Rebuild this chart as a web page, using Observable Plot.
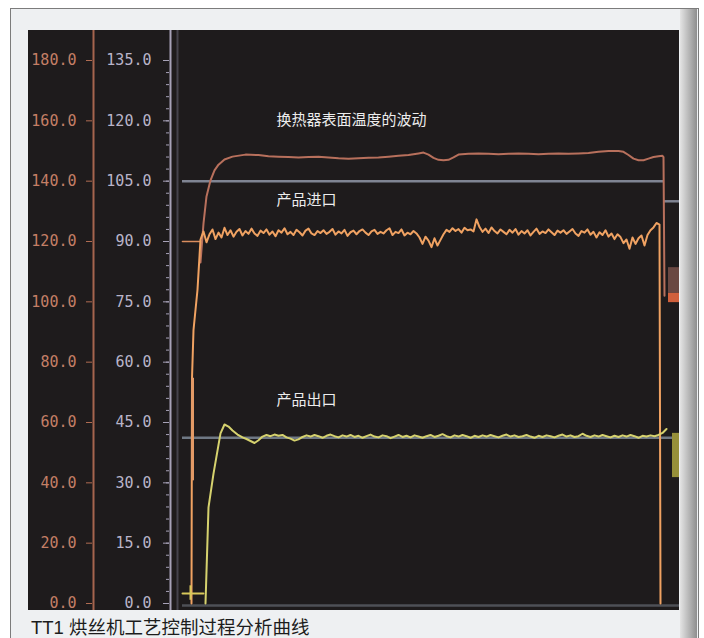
<!DOCTYPE html>
<html><head><meta charset="utf-8">
<script src="https://cdn.jsdelivr.net/npm/d3@7"></script>
<script src="https://cdn.jsdelivr.net/npm/@observablehq/plot@0.6"></script>
<style>
html,body{margin:0;padding:0;background:#fff;width:704px;height:638px;overflow:hidden;}
#frame{position:absolute;left:10px;top:8px;width:687px;height:640px;border:1px solid #7c7c7c;border-bottom:none;background:#eef0f2;}
#strip{position:absolute;left:680px;top:9px;width:17px;height:640px;background:linear-gradient(to right,#e4e4e4,#bdbdbd 45%,#8e8e8e);}
#chart{position:absolute;left:28px;top:30px;width:651px;height:580px;}
#chart svg{display:block;}
#caption{position:absolute;left:31px;top:613px;font:18.5px "Liberation Sans","Noto Sans CJK SC",sans-serif;color:#1c1c1c;white-space:nowrap;}
</style></head>
<body>
<div id="frame"></div>
<div id="strip"></div>
<div id="chart"></div>
<div id="caption">TT1 烘丝机工艺控制过程分析曲线</div>
<script>
// ---- tick labels (left = primary 0-135 scale, outer = 0-180 scale) ----
const innerTickLabels = [0, 15, 30, 45, 60, 75, 90, 105, 120, 135];
const outerTickLabels = [0, 20, 40, 60, 80, 100, 120, 140, 160, 180];
const outerToInner = 0.75;
const minorTicks = d3.range(0, 136, 3);

// ---- annotations ----
const labelText = ["换热器表面温度的波动", "产品进口", "产品出口"];
const labelT = [98, 98, 98];
const labelV = [120.1, 100.2, 50.5];

// ---- heat exchanger surface temperature ----
const heaterT = [22, 25, 28, 32, 36, 40, 46, 54, 67, 80, 90, 100, 110, 120, 130, 140, 150, 160, 170, 180, 190, 200, 210, 220, 230, 240, 245, 250, 255, 260, 265, 270, 275, 280, 290, 300, 310, 320, 330, 340, 350, 360, 370, 380, 390, 400, 410, 420, 430, 440, 445, 450, 455, 460, 465, 470, 475, 480, 484, 485, 486];
const heaterV = [84.8, 94.5, 101.2, 105.2, 107.7, 109.1, 110.4, 111.1, 111.6, 111.5, 111.2, 111.1, 111.0, 110.9, 111.0, 111.1, 110.9, 110.7, 110.6, 110.7, 110.8, 110.9, 111.1, 111.3, 111.5, 111.9, 112.1, 111.6, 110.8, 110.3, 110.2, 110.3, 110.9, 111.6, 111.8, 111.9, 111.8, 111.7, 111.8, 111.9, 111.8, 111.7, 111.8, 111.9, 111.8, 111.9, 112.0, 112.3, 112.5, 112.5, 112.3, 111.5, 110.6, 110.2, 110.2, 110.6, 111.0, 111.2, 111.3, 111.0, 76.5];

// ---- product inlet ----
const inletSetT = [4, 22];
const inletSetV = [90, 90];
const inletRiseT = [13, 13.5, 15, 19];
const inletRiseV = [0, 56, 68, 78];
const inletStart = 22, inletStep = 3;
const inletNoise = [
  90.5, 92.5, 89.8, 91.8, 93.0, 90.6, 92.2, 91.0, 93.4, 91.6, 92.8, 91.2, 92.4, 93.1, 91.5, 92.6, 91.9, 93.2, 92.0, 91.4, 92.7,
  92.1, 93.0, 91.7, 92.5, 91.3, 92.8, 92.2, 93.3, 91.8, 92.4, 91.6, 92.9, 92.3, 91.5, 92.7, 93.2, 92.0, 91.6, 92.6, 92.1,
  92.8, 91.9, 92.4, 93.1, 91.7, 92.5, 92.0, 92.9, 91.4, 92.3, 92.7, 91.8, 92.6, 93.0, 92.2, 91.6, 92.5, 92.9, 91.9, 92.4,
  92.0, 92.8, 93.3, 91.6, 92.4, 92.1, 93.0, 91.5, 92.2, 91.8, 92.6, 92.0, 91.0, 89.4, 91.2, 90.2, 88.6, 90.8, 89.0, 90.4,
  91.8, 92.9, 92.4, 93.3, 92.6, 93.1, 92.2, 93.4, 92.8, 93.0, 92.5, 95.5, 93.6, 92.4, 93.2, 92.1, 93.5, 92.6, 92.0, 93.0,
  92.4, 91.8, 92.9, 92.2, 93.1, 91.7, 92.6, 92.0, 92.8, 91.5, 92.4, 93.2, 91.9, 92.5, 92.1, 93.0, 92.3, 91.6, 92.7, 92.2,
  92.8, 91.9, 92.5, 93.1, 92.0, 91.4, 92.6, 92.2, 93.0, 91.7, 92.4, 91.0, 92.3, 91.6, 92.8, 91.2, 92.0, 90.6, 91.8, 91.1,
  89.6, 90.5, 88.2, 91.0, 89.4, 90.8, 91.5, 89.0, 91.6, 92.8, 93.5, 94.6
];
const inletEndT = [481, 482];
const inletEndV = [94.2, 0];
const inletCursorT = [14];
const inletCursorV1 = [30.5], inletCursorV2 = [56];

// ---- product outlet ----
const outletFlatT = [4, 25];
const outletFlatV = [2.5, 2.5];
const outletCursorT = [12];
const outletCursorV1 = [0.8], outletCursorV2 = [4.4];
const outletRiseT = [27, 30, 35, 39, 42, 46, 50, 54, 59, 64];
const outletRiseV = [0, 23.9, 32.3, 38.0, 42.3, 44.5, 44.0, 43.0, 42.0, 41.3];
const outletStart = 68, outletStep = 4;
const outletNoise = [
  40.9, 40.4, 39.9, 40.6, 41.5, 41.9, 41.6, 42.0, 41.7, 41.9, 41.3, 41.0, 40.5, 40.8, 41.4, 41.8, 41.5, 41.9, 41.6, 41.2,
  41.7, 42.0, 41.6, 41.3, 41.8, 41.5, 41.9, 41.4, 41.7, 41.2, 41.6, 42.0, 41.5, 41.3, 41.8, 41.6, 41.1, 41.5, 41.9, 41.4,
  41.7, 41.3, 41.8, 41.5, 41.2, 41.6, 41.9, 41.4, 41.7, 42.1, 41.6, 41.3, 41.8, 41.5, 41.9, 41.6, 41.2, 41.7, 41.4, 41.8,
  41.5, 41.9, 41.6, 41.3, 41.7, 42.0, 41.5, 41.8, 41.4, 41.6, 41.9, 41.5, 41.2, 41.7, 41.4, 41.8, 41.6, 41.3, 41.7, 42.0,
  41.5, 41.8, 41.4, 41.6, 42.2, 41.7, 41.4, 41.8, 41.5, 41.9, 41.6, 41.3, 41.7, 41.4, 41.8, 41.5, 41.9, 41.6, 41.2, 41.7,
  41.5, 41.8, 41.6, 41.9, 42.4, 43.4
];

// ---- reference (setpoint) lines ----
const refV = [105, 100, 41.2, -0.5];
const refT1 = [4, 485, 4, 4];
const refT2 = [485, 501, 501, 501];
const refColor = ["#7f8492", "#7f8492", "#6f7884", "#4e5056"];

// ---- current-value blocks at the right edge ----
const blockT1 = [490, 490, 494];
const blockT2 = [501, 501, 501];
const blockV1 = [77.1, 74.8, 31.3];
const blockV2 = [83.5, 77.1, 42.3];
const blockFill = ["#6a4842", "#d0603c", "#97903a"];

// ---- build tables ----
const zip = (T, V) => T.map((t, i) => ({t, v: V[i]}));
const heater = zip(heaterT, heaterV);
const inlet = [
  ...zip(inletRiseT, inletRiseV),
  ...inletNoise.map((v, i) => ({t: inletStart + i * inletStep, v})),
  ...zip(inletEndT, inletEndV)
];
const inletSet = zip(inletSetT, inletSetV);
const outlet = [
  ...zip(outletRiseT, outletRiseV),
  ...outletNoise.map((v, i) => ({t: outletStart + i * outletStep, v}))
];
const outletFlat = zip(outletFlatT, outletFlatV);
const refs = refV.map((v, i) => ({v, t1: refT1[i], t2: refT2[i], c: refColor[i]}));
const blocks = blockV1.map((v1, i) => ({t1: blockT1[i], t2: blockT2[i], v1, v2: blockV2[i], c: blockFill[i]}));
const labels = labelText.map((s, i) => ({s, t: labelT[i], v: labelV[i]}));
const cursors = [
  {t: inletCursorT[0], v1: inletCursorV1[0], v2: inletCursorV2[0], c: "#e39a66", w: 3},
  {t: outletCursorT[0], v1: outletCursorV1[0], v2: outletCursorV2[0], c: "#d8c85a", w: 2}
];

const axisFont = {fontFamily: "DejaVu Sans Mono", fontSize: 15};

const chart = Plot.plot({
  width: 651,
  height: 580,
  marginLeft: 150,
  marginRight: 0,
  marginTop: 30,
  marginBottom: 7,
  x: {domain: [0, 501], axis: null},
  y: {domain: [0, 135], axis: null},
  style: {background: "#1e1b1c", overflow: "visible"},
  marks: [
    // axis lines
    Plot.ruleX([0], {x: d => d, stroke: "#a5654e", strokeWidth: 2, dx: -85, insetTop: -30, insetBottom: -7}),
    Plot.ruleX([0], {x: d => d, stroke: "#a7a2b8", strokeWidth: 2, dx: -8, insetTop: -30, insetBottom: -7}),
    Plot.ruleX([0], {x: d => d, stroke: "#45434c", strokeWidth: 2, dx: -1, insetTop: -30, insetBottom: -7}),
    // outer scale (0-180)
    Plot.axisY(outerTickLabels.map(d => d * outerToInner), {
      anchor: "left", dx: -86, tickSize: 6, tickPadding: 10, stroke: "#b06c52", fill: "#c47f66",
      tickFormat: d => (d / outerToInner).toFixed(1), ...axisFont
    }),
    // inner scale (0-135)
    Plot.axisY(minorTicks, {anchor: "left", dx: -9, tickSize: 3, stroke: "#a7a2b8", fill: "none"}),
    Plot.axisY(innerTickLabels, {
      anchor: "left", dx: -9, tickSize: 6, tickPadding: 12, stroke: "#a7a2b8", fill: "#b9b4c9",
      tickFormat: d => d.toFixed(1), ...axisFont
    }),
    // reference lines
    Plot.ruleY(refs, {y: "v", x1: "t1", x2: "t2", stroke: "c", strokeWidth: 2.5}),
    // blocks
    Plot.rect(blocks, {x1: "t1", x2: "t2", y1: "v1", y2: "v2", fill: "c"}),
    // curves
    Plot.line(heater, {x: "t", y: "v", stroke: "#b8705c", strokeWidth: 2}),
    Plot.line(inletSet, {x: "t", y: "v", stroke: "#d98d5e", strokeWidth: 1.6}),
    Plot.line(inlet, {x: "t", y: "v", stroke: "#f0a262", strokeWidth: 2}),
    Plot.line(outletFlat, {x: "t", y: "v", stroke: "#d8c85a", strokeWidth: 2}),
    Plot.line(outlet, {x: "t", y: "v", stroke: "#d6d26e", strokeWidth: 2}),
    Plot.ruleX(cursors, {x: "t", y1: "v1", y2: "v2", stroke: "c", strokeWidth: "w"}),
    // annotations
    Plot.text(labels, {x: "t", y: "v", text: "s", textAnchor: "start", fill: "#ececec",
      fontSize: 15, fontFamily: "Noto Sans CJK SC"})
  ]
});
document.getElementById("chart").appendChild(chart);
</script>
</body></html>
